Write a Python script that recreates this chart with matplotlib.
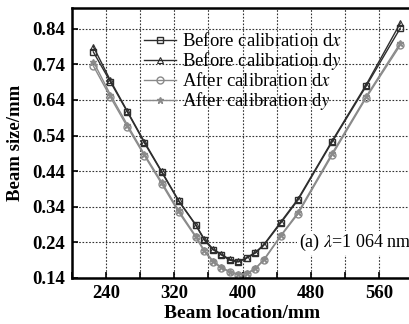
import numpy as np
import matplotlib
matplotlib.use("Agg")
from matplotlib import pyplot as plt
from matplotlib.ticker import MultipleLocator

plt.rcParams['font.family'] = ['Liberation Serif', 'DejaVu Serif']
plt.rcParams['mathtext.fontset'] = 'stix'

# beam location (mm)
loc = [225, 245, 265, 285, 305, 325, 345, 355, 365, 375, 385, 395, 405, 415,
       425, 445, 465, 505, 545, 585]

# beam size (mm)
before_dx = [0.775, 0.691, 0.606, 0.519, 0.438, 0.356, 0.289, 0.247, 0.220, 0.205,
             0.190, 0.185, 0.196, 0.210, 0.232, 0.295, 0.359, 0.522, 0.679, 0.842]
before_dy = [0.790, 0.695, 0.608, 0.522, 0.440, 0.358, 0.290, 0.250, 0.222, 0.207,
             0.192, 0.187, 0.197, 0.212, 0.234, 0.298, 0.362, 0.525, 0.683, 0.856]
after_dx = [0.736, 0.648, 0.564, 0.483, 0.405, 0.325, 0.255, 0.215, 0.186, 0.168,
            0.157, 0.149, 0.152, 0.166, 0.190, 0.258, 0.320, 0.485, 0.646, 0.794]
after_dy = [0.748, 0.655, 0.570, 0.487, 0.410, 0.330, 0.258, 0.218, 0.189, 0.170,
            0.158, 0.150, 0.153, 0.167, 0.192, 0.260, 0.324, 0.490, 0.650, 0.800]

labels = ['Before calibration d$x$', 'Before calibration d$y$',
          'After calibration d$x$', 'After calibration d$y$']

fig = plt.figure(figsize=(4.1, 3.24), dpi=100)
ax = fig.add_axes([0.1756, 0.142, 0.832, 0.833])

dark, light = '#2e2e2e', '#8a8a8a'
ax.plot(loc, before_dx, '-s', color=dark, mfc='none', ms=5, lw=1.0, mew=1.0, label=labels[0])
ax.plot(loc, before_dy, '-^', color=dark, mfc='none', ms=5, lw=1.0, mew=0.8, label=labels[1])
ax.plot(loc, after_dx, '-o', color=light, mfc='none', ms=5, lw=1.0, mew=1.0, label=labels[2])
ax.plot(loc, after_dy, '-*', color=light, ms=5, lw=1.0, label=labels[3])

ax.set_xlim(200, 600)
ax.set_ylim(0.14, 0.898)
ax.xaxis.set_minor_locator(MultipleLocator(40))
ax.set_xticks([240, 320, 400, 480, 560])
ax.set_yticks([0.14, 0.24, 0.34, 0.44, 0.54, 0.64, 0.74, 0.84])
ax.set_yticklabels(['0.14', '0.24', '0.34', '0.44', '0.54', '0.64', '0.74', '0.84'])
ax.grid(True, which='both', ls=(0, (1.5, 1.5)), color='#333333', lw=0.8)
ax.tick_params(which='both', direction='in', length=4, width=1.2, labelsize=13.5, pad=5)
for t in ax.get_xticklabels() + ax.get_yticklabels():
    t.set_fontweight('bold')

for s in ['left', 'top', 'bottom']:
    ax.spines[s].set_linewidth(1.8)
ax.spines['right'].set_visible(False)

ax.set_xlabel('Beam location/mm', fontsize=14, fontweight='bold', labelpad=2)
ax.set_ylabel('Beam size/mm', fontsize=13.5, fontweight='bold', labelpad=6)

leg = ax.legend(loc='upper left', bbox_to_anchor=(0.19, 0.938), frameon=False,
                fontsize=13.5, handlelength=1.7, handletextpad=0.3, labelspacing=0.0,
                borderaxespad=0)

ax.text(0.995, 0.13, '(a) $\\lambda$=1 064 nm', transform=ax.transAxes, fontsize=13,
        ha='right', va='center', bbox=dict(facecolor='white', edgecolor='none', pad=1))

fig.savefig('out.png', dpi=100)
